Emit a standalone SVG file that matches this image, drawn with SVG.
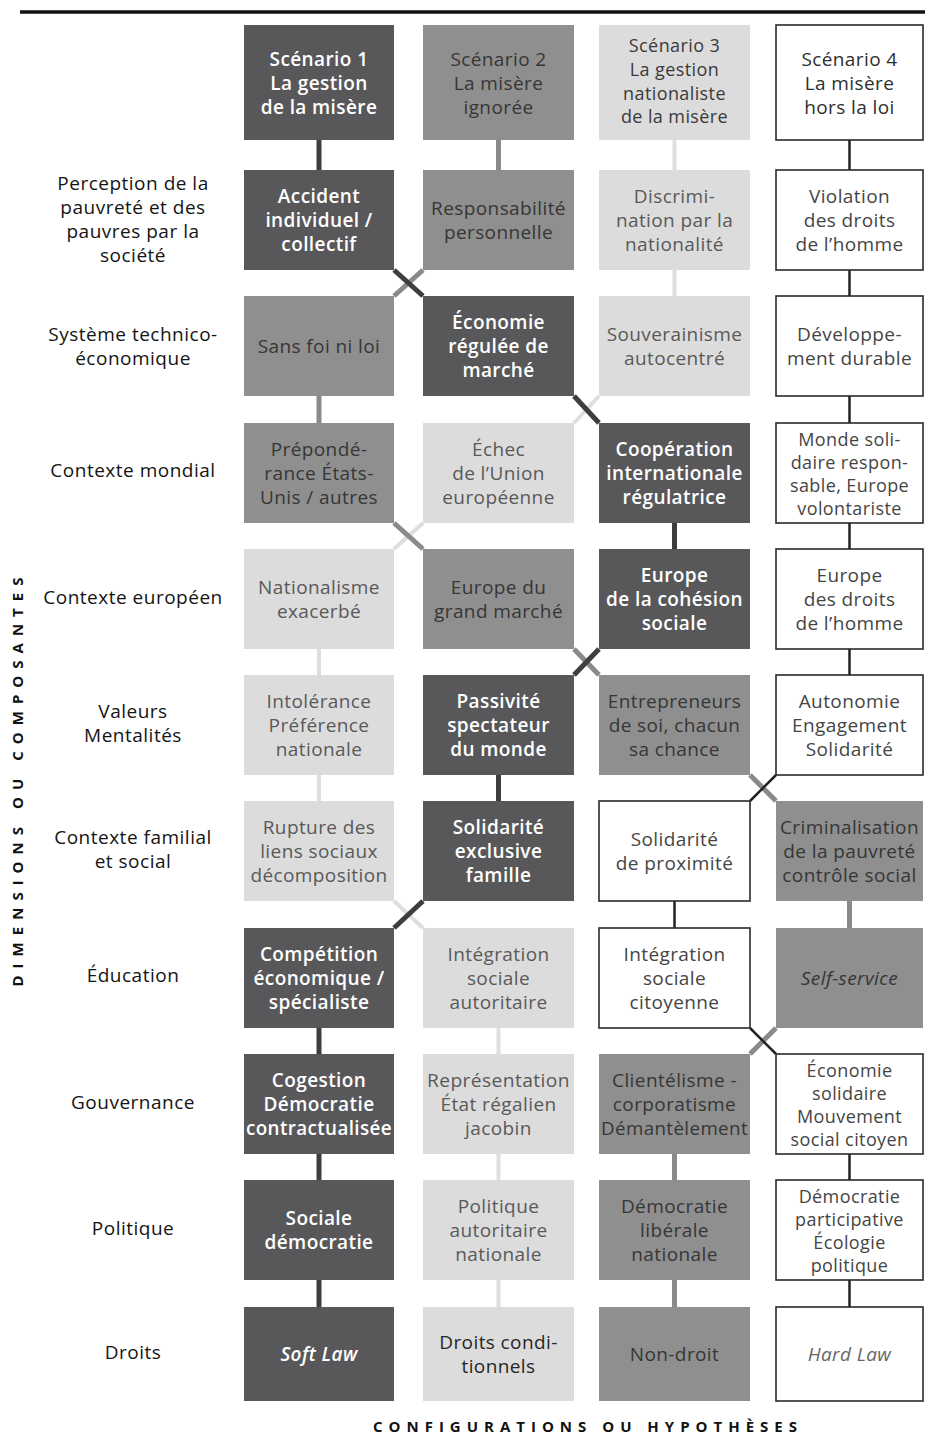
<svg xmlns="http://www.w3.org/2000/svg" width="925" height="1440" viewBox="0 0 925 1440">
<style>
text{font-family:"Open Sans","DejaVu Sans",sans-serif;text-anchor:middle}
.b{font-size:19px;letter-spacing:0.4px}
.b4{font-size:18px;letter-spacing:0.4px}
.dk{fill:#58585a}
.md{fill:#8f8f8f}
.lt{fill:#dcdcdc}
.wh{fill:#ffffff;stroke:#2a2a2a;stroke-width:1.6}
.tdk{fill:#ffffff;font-weight:600}
.tmd{fill:#363636}
.tlt{fill:#595959}
.twh{fill:#454545}
.lab{font-size:19px;letter-spacing:0.5px;fill:#141414}
.ax{font-size:15px;font-weight:700;fill:#111}
.c1{stroke:#3e3e40;stroke-width:5;fill:none}
.c2{stroke:#8a8a8a;stroke-width:5;fill:none}
.c3{stroke:#dedede;stroke-width:4;fill:none}
.c4{stroke:#222;stroke-width:2.5;fill:none}
</style>
<rect x="0" y="0" width="925" height="1440" fill="#ffffff"/>
<line x1="20" y1="12" x2="925" y2="12" stroke="#111" stroke-width="3.5"/>

<g id="connectors">
<g id="s3-path">
<line class="c3" x1="674.5" y1="140" x2="674.5" y2="170"/>
<line class="c3" x1="674.5" y1="270" x2="674.5" y2="296"/>
<line class="c3" x1="599" y1="396" x2="574" y2="423"/>
<line class="c3" x1="423" y1="523" x2="394" y2="549"/>
<line class="c3" x1="319" y1="649" x2="319" y2="675"/>
<line class="c3" x1="319" y1="775" x2="319" y2="801"/>
<line class="c3" x1="394" y1="901" x2="423" y2="928"/>
<line class="c3" x1="498.5" y1="1028" x2="498.5" y2="1054"/>
<line class="c3" x1="498.5" y1="1154" x2="498.5" y2="1180"/>
<line class="c3" x1="498.5" y1="1280" x2="498.5" y2="1307"/>
</g>
<g id="s2-path">
<line class="c2" x1="498.5" y1="140" x2="498.5" y2="170"/>
<line class="c2" x1="423" y1="270" x2="394" y2="296"/>
<line class="c2" x1="319" y1="396" x2="319" y2="423"/>
<line class="c2" x1="394" y1="523" x2="423" y2="549"/>
<line class="c2" x1="574" y1="649" x2="599" y2="675"/>
<line class="c2" x1="750" y1="775" x2="776" y2="801"/>
<line class="c2" x1="849.5" y1="901" x2="849.5" y2="928"/>
<line class="c2" x1="776" y1="1028" x2="750" y2="1054"/>
<line class="c2" x1="674.5" y1="1154" x2="674.5" y2="1180"/>
<line class="c2" x1="674.5" y1="1280" x2="674.5" y2="1307"/>
</g>
<g id="s4-path">
<line class="c4" x1="849.5" y1="140" x2="849.5" y2="170"/>
<line class="c4" x1="849.5" y1="270" x2="849.5" y2="296"/>
<line class="c4" x1="849.5" y1="396" x2="849.5" y2="423"/>
<line class="c4" x1="849.5" y1="523" x2="849.5" y2="549"/>
<line class="c4" x1="849.5" y1="649" x2="849.5" y2="675"/>
<line class="c4" x1="776" y1="775" x2="750" y2="801"/>
<line class="c4" x1="674.5" y1="901" x2="674.5" y2="928"/>
<line class="c4" x1="750" y1="1028" x2="776" y2="1054"/>
<line class="c4" x1="849.5" y1="1154" x2="849.5" y2="1180"/>
<line class="c4" x1="849.5" y1="1280" x2="849.5" y2="1307"/>
</g>
<g id="s1-path">
<line class="c1" x1="319" y1="140" x2="319" y2="170"/>
<line class="c1" x1="394" y1="270" x2="423" y2="296"/>
<line class="c1" x1="574" y1="396" x2="599" y2="423"/>
<line class="c1" x1="674.5" y1="523" x2="674.5" y2="549"/>
<line class="c1" x1="599" y1="649" x2="574" y2="675"/>
<line class="c1" x1="498.5" y1="775" x2="498.5" y2="801"/>
<line class="c1" x1="423" y1="901" x2="394" y2="928"/>
<line class="c1" x1="319" y1="1028" x2="319" y2="1054"/>
<line class="c1" x1="319" y1="1154" x2="319" y2="1180"/>
<line class="c1" x1="319" y1="1280" x2="319" y2="1307"/>
</g>
</g>

<!-- Header row -->
<g id="scenario1"><rect class="dk" x="244" y="25" width="150" height="115"/>
<text class="b tdk"><tspan x="319" y="65.5">Scénario 1</tspan><tspan x="319" y="89.5">La gestion</tspan><tspan x="319" y="113.5">de la misère</tspan></text></g>
<g id="scenario2"><rect class="md" x="423" y="25" width="151" height="115"/>
<text class="b tmd"><tspan x="498.5" y="65.5">Scénario 2</tspan><tspan x="498.5" y="89.5">La misère</tspan><tspan x="498.5" y="113.5">ignorée</tspan></text></g>
<g id="scenario3"><rect class="lt" x="599" y="25" width="151" height="115"/>
<text class="b4 tlt" style="fill:#3a3a3a"><tspan x="674.5" y="52">Scénario 3</tspan><tspan x="674.5" y="76">La gestion</tspan><tspan x="674.5" y="99.5">nationaliste</tspan><tspan x="674.5" y="123">de la misère</tspan></text></g>
<g id="scenario4"><rect class="wh" x="776" y="25" width="147" height="115"/>
<text class="b twh" style="fill:#2e2e2e"><tspan x="849.5" y="65.5">Scénario 4</tspan><tspan x="849.5" y="89.5">La misère</tspan><tspan x="849.5" y="113.5">hors la loi</tspan></text></g>

<!-- Left labels -->
<g id="labels">
<text class="lab"><tspan x="133" y="190">Perception de la</tspan><tspan x="133" y="214">pauvreté et des</tspan><tspan x="133" y="238">pauvres par la</tspan><tspan x="133" y="262">société</tspan></text>
<text class="lab"><tspan x="133" y="341">Système technico-</tspan><tspan x="133" y="365">économique</tspan></text>
<text class="lab" x="133" y="477">Contexte mondial</text>
<text class="lab" x="133" y="604">Contexte européen</text>
<text class="lab"><tspan x="133" y="718">Valeurs</tspan><tspan x="133" y="742">Mentalités</tspan></text>
<text class="lab"><tspan x="133" y="844">Contexte familial</tspan><tspan x="133" y="868">et social</tspan></text>
<text class="lab" x="133" y="982">Éducation</text>
<text class="lab" x="133" y="1109">Gouvernance</text>
<text class="lab" x="133" y="1235">Politique</text>
<text class="lab" x="133" y="1359">Droits</text>
<text class="ax" transform="translate(23,782) rotate(-90)" x="0" y="0" textLength="409" lengthAdjust="spacing">DIMENSIONS OU COMPOSANTES</text>
<text class="ax" x="585" y="1432" textLength="424" lengthAdjust="spacing">CONFIGURATIONS OU HYPOTHÈSES</text>
</g>

<!-- Row 1 -->
<g id="r1c1"><rect class="dk" x="244" y="170" width="150" height="100"/>
<text class="b tdk"><tspan x="319" y="203">Accident</tspan><tspan x="319" y="227">individuel /</tspan><tspan x="319" y="251">collectif</tspan></text></g>
<g id="r1c2"><rect class="md" x="423" y="170" width="151" height="100"/>
<text class="b tmd"><tspan x="498.5" y="215">Responsabilité</tspan><tspan x="498.5" y="239">personnelle</tspan></text></g>
<g id="r1c3"><rect class="lt" x="599" y="170" width="151" height="100"/>
<text class="b tlt"><tspan x="674.5" y="203">Discrimi-</tspan><tspan x="674.5" y="227">nation par la</tspan><tspan x="674.5" y="251">nationalité</tspan></text></g>
<g id="r1c4"><rect class="wh" x="776" y="170" width="147" height="100"/>
<text class="b twh"><tspan x="849.5" y="203">Violation</tspan><tspan x="849.5" y="227">des droits</tspan><tspan x="849.5" y="251">de l’homme</tspan></text></g>

<!-- Row 2 -->
<g id="r2c1"><rect class="md" x="244" y="296" width="150" height="100"/>
<text class="b tmd" x="319" y="353">Sans foi ni loi</text></g>
<g id="r2c2"><rect class="dk" x="423" y="296" width="151" height="100"/>
<text class="b tdk"><tspan x="498.5" y="329">Économie</tspan><tspan x="498.5" y="353">régulée de</tspan><tspan x="498.5" y="377">marché</tspan></text></g>
<g id="r2c3"><rect class="lt" x="599" y="296" width="151" height="100"/>
<text class="b tlt"><tspan x="674.5" y="341">Souverainisme</tspan><tspan x="674.5" y="365">autocentré</tspan></text></g>
<g id="r2c4"><rect class="wh" x="776" y="296" width="147" height="100"/>
<text class="b twh"><tspan x="849.5" y="341">Développe-</tspan><tspan x="849.5" y="365">ment durable</tspan></text></g>

<!-- Row 3 -->
<g id="r3c1"><rect class="md" x="244" y="423" width="150" height="100"/>
<text class="b tmd"><tspan x="319" y="456">Prépondé-</tspan><tspan x="319" y="480">rance États-</tspan><tspan x="319" y="504">Unis / autres</tspan></text></g>
<g id="r3c2"><rect class="lt" x="423" y="423" width="151" height="100"/>
<text class="b tlt"><tspan x="498.5" y="456">Échec</tspan><tspan x="498.5" y="480">de l’Union</tspan><tspan x="498.5" y="504">européenne</tspan></text></g>
<g id="r3c3"><rect class="dk" x="599" y="423" width="151" height="100"/>
<text class="b tdk"><tspan x="674.5" y="456">Coopération</tspan><tspan x="674.5" y="480">internationale</tspan><tspan x="674.5" y="504">régulatrice</tspan></text></g>
<g id="r3c4"><rect class="wh" x="776" y="423" width="147" height="100"/>
<text class="b4 twh"><tspan x="849.5" y="445.5">Monde soli-</tspan><tspan x="849.5" y="468.5">daire respon-</tspan><tspan x="849.5" y="491.5">sable, Europe</tspan><tspan x="849.5" y="514.5">volontariste</tspan></text></g>

<!-- Row 4 -->
<g id="r4c1"><rect class="lt" x="244" y="549" width="150" height="100"/>
<text class="b tlt"><tspan x="319" y="594">Nationalisme</tspan><tspan x="319" y="618">exacerbé</tspan></text></g>
<g id="r4c2"><rect class="md" x="423" y="549" width="151" height="100"/>
<text class="b tmd"><tspan x="498.5" y="594">Europe du</tspan><tspan x="498.5" y="618">grand marché</tspan></text></g>
<g id="r4c3"><rect class="dk" x="599" y="549" width="151" height="100"/>
<text class="b tdk"><tspan x="674.5" y="582">Europe</tspan><tspan x="674.5" y="606">de la cohésion</tspan><tspan x="674.5" y="630">sociale</tspan></text></g>
<g id="r4c4"><rect class="wh" x="776" y="549" width="147" height="100"/>
<text class="b twh"><tspan x="849.5" y="582">Europe</tspan><tspan x="849.5" y="606">des droits</tspan><tspan x="849.5" y="630">de l’homme</tspan></text></g>

<!-- Row 5 -->
<g id="r5c1"><rect class="lt" x="244" y="675" width="150" height="100"/>
<text class="b tlt"><tspan x="319" y="708">Intolérance</tspan><tspan x="319" y="732">Préférence</tspan><tspan x="319" y="756">nationale</tspan></text></g>
<g id="r5c2"><rect class="dk" x="423" y="675" width="151" height="100"/>
<text class="b tdk"><tspan x="498.5" y="708">Passivité</tspan><tspan x="498.5" y="732">spectateur</tspan><tspan x="498.5" y="756">du monde</tspan></text></g>
<g id="r5c3"><rect class="md" x="599" y="675" width="151" height="100"/>
<text class="b tmd"><tspan x="674.5" y="708">Entrepreneurs</tspan><tspan x="674.5" y="732">de soi, chacun</tspan><tspan x="674.5" y="756">sa chance</tspan></text></g>
<g id="r5c4"><rect class="wh" x="776" y="675" width="147" height="100"/>
<text class="b twh"><tspan x="849.5" y="708">Autonomie</tspan><tspan x="849.5" y="732">Engagement</tspan><tspan x="849.5" y="756">Solidarité</tspan></text></g>

<!-- Row 6 -->
<g id="r6c1"><rect class="lt" x="244" y="801" width="150" height="100"/>
<text class="b tlt"><tspan x="319" y="834">Rupture des</tspan><tspan x="319" y="858">liens sociaux</tspan><tspan x="319" y="882">décomposition</tspan></text></g>
<g id="r6c2"><rect class="dk" x="423" y="801" width="151" height="100"/>
<text class="b tdk"><tspan x="498.5" y="834">Solidarité</tspan><tspan x="498.5" y="858">exclusive</tspan><tspan x="498.5" y="882">famille</tspan></text></g>
<g id="r6c3"><rect class="wh" x="599" y="801" width="151" height="100"/>
<text class="b twh"><tspan x="674.5" y="846">Solidarité</tspan><tspan x="674.5" y="870">de proximité</tspan></text></g>
<g id="r6c4"><rect class="md" x="776" y="801" width="147" height="100"/>
<text class="b tmd"><tspan x="849.5" y="834">Criminalisation</tspan><tspan x="849.5" y="858">de la pauvreté</tspan><tspan x="849.5" y="882">contrôle social</tspan></text></g>

<!-- Row 7 -->
<g id="r7c1"><rect class="dk" x="244" y="928" width="150" height="100"/>
<text class="b tdk"><tspan x="319" y="961">Compétition</tspan><tspan x="319" y="985">économique /</tspan><tspan x="319" y="1009">spécialiste</tspan></text></g>
<g id="r7c2"><rect class="lt" x="423" y="928" width="151" height="100"/>
<text class="b tlt"><tspan x="498.5" y="961">Intégration</tspan><tspan x="498.5" y="985">sociale</tspan><tspan x="498.5" y="1009">autoritaire</tspan></text></g>
<g id="r7c3"><rect class="wh" x="599" y="928" width="151" height="100"/>
<text class="b twh"><tspan x="674.5" y="961">Intégration</tspan><tspan x="674.5" y="985">sociale</tspan><tspan x="674.5" y="1009">citoyenne</tspan></text></g>
<g id="r7c4"><rect class="md" x="776" y="928" width="147" height="100"/>
<text class="b tmd" font-style="italic" x="849.5" y="985">Self-service</text></g>

<!-- Row 8 -->
<g id="r8c1"><rect class="dk" x="244" y="1054" width="150" height="100"/>
<text class="b tdk"><tspan x="319" y="1087">Cogestion</tspan><tspan x="319" y="1111">Démocratie</tspan><tspan x="319" y="1135" textLength="146" lengthAdjust="spacingAndGlyphs">contractualisée</tspan></text></g>
<g id="r8c2"><rect class="lt" x="423" y="1054" width="151" height="100"/>
<text class="b tlt"><tspan x="498.5" y="1087" textLength="143" lengthAdjust="spacingAndGlyphs">Représentation</tspan><tspan x="498.5" y="1111">État régalien</tspan><tspan x="498.5" y="1135">jacobin</tspan></text></g>
<g id="r8c3"><rect class="md" x="599" y="1054" width="151" height="100"/>
<text class="b tmd"><tspan x="674.5" y="1087">Clientélisme -</tspan><tspan x="674.5" y="1111">corporatisme</tspan><tspan x="674.5" y="1135" textLength="147" lengthAdjust="spacingAndGlyphs">Démantèlement</tspan></text></g>
<g id="r8c4"><rect class="wh" x="776" y="1054" width="147" height="100"/>
<text class="b4 twh"><tspan x="849.5" y="1076.5">Économie</tspan><tspan x="849.5" y="1099.5">solidaire</tspan><tspan x="849.5" y="1122.5">Mouvement</tspan><tspan x="849.5" y="1145.5">social citoyen</tspan></text></g>

<!-- Row 9 -->
<g id="r9c1"><rect class="dk" x="244" y="1180" width="150" height="100"/>
<text class="b tdk"><tspan x="319" y="1225">Sociale</tspan><tspan x="319" y="1249">démocratie</tspan></text></g>
<g id="r9c2"><rect class="lt" x="423" y="1180" width="151" height="100"/>
<text class="b tlt"><tspan x="498.5" y="1213">Politique</tspan><tspan x="498.5" y="1237">autoritaire</tspan><tspan x="498.5" y="1261">nationale</tspan></text></g>
<g id="r9c3"><rect class="md" x="599" y="1180" width="151" height="100"/>
<text class="b tmd"><tspan x="674.5" y="1213">Démocratie</tspan><tspan x="674.5" y="1237">libérale</tspan><tspan x="674.5" y="1261">nationale</tspan></text></g>
<g id="r9c4"><rect class="wh" x="776" y="1180" width="147" height="100"/>
<text class="b4 twh"><tspan x="849.5" y="1202.5">Démocratie</tspan><tspan x="849.5" y="1225.5">participative</tspan><tspan x="849.5" y="1248.5">Écologie</tspan><tspan x="849.5" y="1271.5">politique</tspan></text></g>

<!-- Row 10 -->
<g id="r10c1"><rect class="dk" x="244" y="1307" width="150" height="94"/>
<text class="b tdk" font-style="italic" x="319" y="1361">Soft Law</text></g>
<g id="r10c2"><rect class="lt" x="423" y="1307" width="151" height="94"/>
<text class="b tlt" style="fill:#262626"><tspan x="498.5" y="1349">Droits condi-</tspan><tspan x="498.5" y="1373">tionnels</tspan></text></g>
<g id="r10c3"><rect class="md" x="599" y="1307" width="151" height="94"/>
<text class="b tmd" x="674.5" y="1361">Non-droit</text></g>
<g id="r10c4"><rect class="wh" x="776" y="1307" width="147" height="94"/>
<text class="b twh" font-style="italic" style="fill:#666" x="849.5" y="1361">Hard Law</text></g>
</svg>
